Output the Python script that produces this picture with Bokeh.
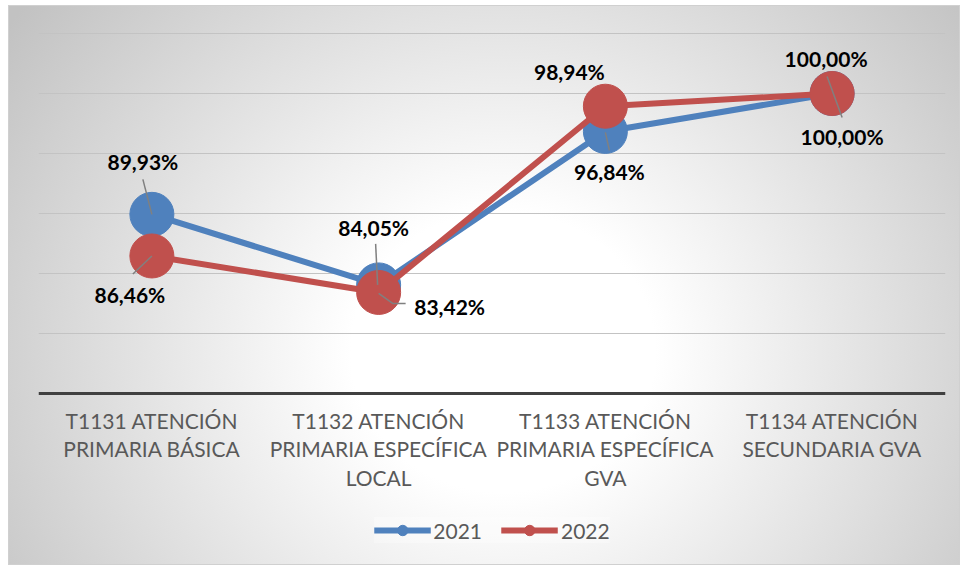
from bokeh.plotting import figure
from bokeh.models import Range1d, FixedTicker, Legend, LegendItem
from bokeh.core.properties import value
from bokeh.embed import file_html
from bokeh.resources import INLINE

# ---- data ----
categories = [
    "T1131 ATENCIÓN\nPRIMARIA BÁSICA",
    "T1132 ATENCIÓN\nPRIMARIA ESPECÍFICA\nLOCAL",
    "T1133 ATENCIÓN\nPRIMARIA ESPECÍFICA\nGVA",
    "T1134 ATENCIÓN\nSECUNDARIA GVA",
]
years = ["2021", "2022"]
values_2021 = [89.93, 84.05, 96.84, 100.00]
values_2022 = [86.46, 83.42, 98.94, 100.00]
grid_ticks = [80, 85, 90, 95, 100, 105]

# ---- styles ----
colors = {"2021": "#4f81bd", "2022": "#c0504d"}
label_offsets = {
    "2021": [(-9, -53), (-5, -57), (4, 40), (10, 43)],
    "2022": [(-22, 39), (71, 14), (-36, -35), (-6, -35)],
}
leaders = {
    "2021": [[(-9, -35), (0, 0)], [(-3, -41), (-1, 0)], [(0, 1), (4, 19)], None],
    "2022": [[(-19, 18), (0, 0)], [(0, 1), (14, 11), (27, 11)], None, [(-5, -17), (10, 24)]],
}

FW = 907
PX_PER_UNIT_Y = 12
TOP_PAD_PX = 2
BOTTOM_PX = 172          # room below the axis for labels and legend
Y0, Y1 = 75, 105
FH = (Y1 - Y0) * PX_PER_UNIT_Y + TOP_PAD_PX + BOTTOM_PX
L, R, T = 30, 15, 26
fx = FW / len(categories)
fy = PX_PER_UNIT_Y

p = figure(
    frame_width=FW, frame_height=FH,
    x_range=Range1d(0, len(categories)),
    y_range=Range1d(Y0 - BOTTOM_PX / PX_PER_UNIT_Y, Y1 + TOP_PAD_PX / PX_PER_UNIT_Y),
    output_backend="svg", toolbar_location=None,
    min_border_left=L, min_border_right=R, min_border_top=T, min_border_bottom=0,
    background_fill_alpha=0, border_fill_alpha=0,
    styles={
        "margin-left": "8px",
        "margin-top": "5px",
        "background-image": "radial-gradient(ellipse 64% 100% at 52% 62%, #ffffff 25%, #c2c2c2 100%)",
        "outline": "1px solid #d0d0d0",
        "outline-offset": "-1px",
    },
)
p.outline_line_color = None
p.yaxis.visible = False
p.xgrid.visible = False
p.ygrid.ticker = FixedTicker(ticks=grid_ticks)
p.ygrid.grid_line_color = "#c3c3c3"
p.ygrid.grid_line_width = 1

xs = [i + 0.5 for i in range(len(categories))]
p.xaxis.fixed_location = Y0
p.xaxis.ticker = FixedTicker(ticks=xs)
p.xaxis.major_label_overrides = {x: c for x, c in zip(xs, categories)}
p.xaxis.axis_line_color = "#404040"
p.xaxis.axis_line_width = 3
p.xaxis.major_tick_line_color = None
p.xaxis.minor_tick_line_color = None
p.xaxis.major_label_standoff = 8
p.xaxis.major_label_text_font = "Lato"
p.xaxis.major_label_text_font_size = "21px"
p.xaxis.major_label_text_color = "#595959"
p.xaxis.major_label_text_line_height = 1.15

series = {"2021": values_2021, "2022": values_2022}
items = []
for yr in years:
    vals = series[yr]
    ln = p.line(xs, vals, line_width=6, line_color=colors[yr], line_join="round")
    sc = p.scatter(xs, vals, size=44, fill_color=colors[yr], line_color=colors[yr])
    items.append(LegendItem(label=yr, renderers=[ln, sc]))

# leader lines
lx, ly = [], []
for yr in years:
    for x, v, seg in zip(xs, series[yr], leaders[yr]):
        if seg is None:
            continue
        lx.append([x + dx / fx for dx, dy in seg])
        ly.append([v - dy / fy for dx, dy in seg])
p.multi_line(xs=lx, ys=ly, line_color="#808080", line_width=1.5)

# data labels
for yr in years:
    vals = series[yr]
    texts = [f"{v:.2f}".replace(".", ",") + "%" for v in vals]
    p.text(
        x=xs, y=vals, text=texts,
        x_offset=[o[0] for o in label_offsets[yr]],
        y_offset=[o[1] for o in label_offsets[yr]],
        text_align="center", text_baseline="middle",
        text_font=value("Lato"), text_font_style="bold",
        text_font_size="21px", text_color="#000000",
    )

legend = Legend(
    items=items, orientation="horizontal", location="bottom",
    glyph_width=57, glyph_height=26, label_standoff=3, spacing=19,
    label_text_font="Lato", label_text_font_size="21px", label_text_color="#595959",
    background_fill_color="#ffffff", background_fill_alpha=0.3,
    border_line_color=None, margin=22, padding=8,
)
p.add_layout(legend, "center")

open("out.html", "w").write(file_html(p, INLINE))
